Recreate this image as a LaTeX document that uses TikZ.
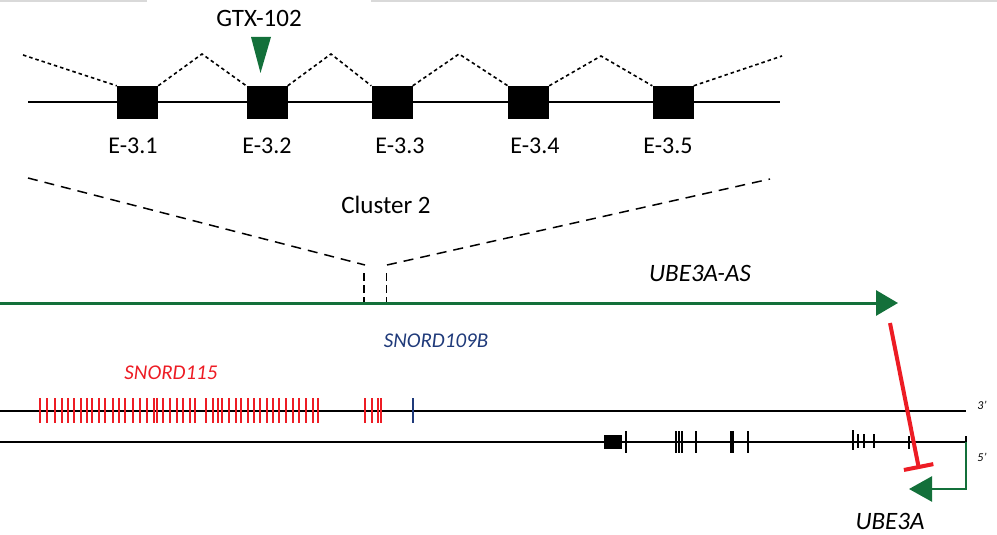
\documentclass[tikz,border=0pt]{standalone}
\usepackage{fontspec}
\setmainfont{Carlito}
\usetikzlibrary{arrows.meta}
\definecolor{dgreen}{HTML}{13703A}
\definecolor{sred}{HTML}{ED1C24}
\definecolor{snavy}{HTML}{1F3A7A}
\definecolor{topgray}{HTML}{D9D9D9}
\tikzset{
  exon/.style={draw=none, fill=black, minimum width=41pt, minimum height=33pt, inner sep=0pt},
  lbl/.style={font=\fontsize{24}{28}\selectfont, inner sep=0pt},
  splice/.style={line width=1.6pt, dash pattern=on 3.5pt off 3pt},
  zoomline/.style={line width=1.5pt, dash pattern=on 10pt off 7pt},
  redtick/.style={sred, line width=1.8pt},
  blacktick/.style={black, line width=1.3pt},
  strand/.style={black, line width=1.3pt},
}
\begin{document}
\begin{tikzpicture}[x=1pt, y=-1pt]
\useasboundingbox (0,0) rectangle (997,535);
% top grey border
\draw[topgray, line width=2pt] (0,0.8) -- (147,0.8);
\draw[topgray, line width=2pt] (371,0.8) -- (997,0.8);

% exon line
\coordinate (xl) at (28,102);
\coordinate (xr) at (780,102);
\draw[line width=1.6pt] (xl) -- (xr);
\node[exon] (e1) at (137.5,102.5) {};
\node[exon] (e2) at (267,102.5) {};
\node[exon] (e3) at (392,102.5) {};
\node[exon] (e4) at (528.5,102.5) {};
\node[exon] (e5) at (673,102.5) {};
\node[lbl] (l1) at (133,146) {E-3.1};
\node[lbl] (l2) at (267,146) {E-3.2};
\node[lbl] (l3) at (400,146) {E-3.3};
\node[lbl] (l4) at (535,146) {E-3.4};
\node[lbl] (l5) at (668,146) {E-3.5};

% splice dotted lines
\coordinate (s0) at (23,55);
\coordinate (p1) at (202,54);
\coordinate (p2) at (331,54);
\coordinate (p3) at (459,54);
\coordinate (p4) at (601,56);
\coordinate (s5) at (782,56);
\draw[splice] (s0) -- (e1.north west);
\draw[splice] (e1.north east) -- (p1) -- (e2.north west);
\draw[splice] (e2.north east) -- (p2) -- (e3.north west);
\draw[splice] (e3.north east) -- (p3) -- (e4.north west);
\draw[splice] (e4.north east) -- (p4) -- (e5.north west);
\draw[splice] (e5.north east) -- (s5);

% GTX-102
\node[lbl, font=\fontsize{25}{28}\selectfont] (gtx) at (259,18) {GTX-102};
\fill[dgreen] (251,37) -- (271,37) -- (260.5,73) -- cycle;

% Cluster 2 zoom lines
\node[lbl, font=\fontsize{25}{28}\selectfont] (cl) at (386,205) {Cluster 2};
\coordinate (zl) at (28,178);
\coordinate (zlb) at (365,265);
\coordinate (zrb) at (387,265);
\coordinate (zr) at (770,179);
\draw[zoomline] (zl) -- (zlb);
\draw[zoomline] (zrb) -- (zr);
\draw[line width=2pt, dash pattern=on 8pt off 4pt] (364,273) -- (364,302);
\draw[line width=1pt, dash pattern=on 8pt off 4pt] (386,273) -- (386,302);

% UBE3A-AS transcript
\coordinate (as0) at (0,303);
\coordinate (as1) at (898,303);
\draw[dgreen, line width=3pt, -{Triangle[length=22pt, width=25pt]}] (as0) -- (as1);
\node[lbl, font=\fontsize{25}{28}\selectfont\itshape] (asl) at (700,273) {UBE3A-AS};

% snoRNA labels
\node[lbl, font=\fontsize{21}{24}\selectfont\itshape, text=snavy] (s109) at (436,341) {SNORD109B};
\node[lbl, font=\fontsize{21}{24}\selectfont\itshape, text=sred] (s115) at (171,373) {SNORD115};

% strands
\coordinate (t0) at (0,411);
\coordinate (t1) at (966,411);
\coordinate (b0) at (0,442);
\coordinate (b1) at (966,442);
\draw[strand] (t0) -- (t1);
\draw[strand] (b0) -- (b1);
\draw[strand] (966,436) -- (b1);
\node[font=\fontsize{12}{14}\selectfont\itshape, inner sep=0pt] (p3l) at (982,405) {3'};
\node[font=\fontsize{12}{14}\selectfont\itshape, inner sep=0pt] (p5l) at (982,457) {5'};

% SNORD115 ticks
\foreach \x in {40,47,55,62,68,74,81,87,92,99,105,113,119,125,133,140,147,154,157,163,170,177,183,190,195,206,213,218,222,229,236,241,248,254,260,267,273,279,286,293,299,306,313,318,365,372,378,381}
  \draw[redtick] (\x,398) -- (\x,423);
% SNORD109B tick
\draw[snavy, line width=1.8pt] (413,398) -- (413,423);

% UBE3A exons
\fill[black] (604,435) rectangle (622,449);
\foreach \x in {626,676,679,682,696,748}
  \draw[blacktick] (\x,431) -- (\x,453);
\draw[black, line width=4pt] (732,431) -- (732,453);
\draw[blacktick] (853,430) -- (853,450);
\foreach \x in {858,864,874}
  \draw[blacktick] (\x,434) -- (\x,448);
\draw[blacktick] (909,436) -- (909,449);

% UBE3A promoter arrow
\coordinate (u0) at (966,442);
\coordinate (uc) at (966,489);
\coordinate (u1) at (909,489);
\draw[dgreen, line width=2.5pt, -{Triangle[length=23pt, width=25pt]}] (u0) -- (uc) -- (u1);
\node[lbl, font=\fontsize{25}{28}\selectfont\itshape] (ul) at (890,521) {UBE3A};

% inhibition
\coordinate (r0) at (890,323);
\coordinate (r1) at (919,469);
\draw[sred, line width=4pt, -{Bar[width=30pt, line width=4pt]}] (r0) -- (r1);
\end{tikzpicture}
\end{document}
